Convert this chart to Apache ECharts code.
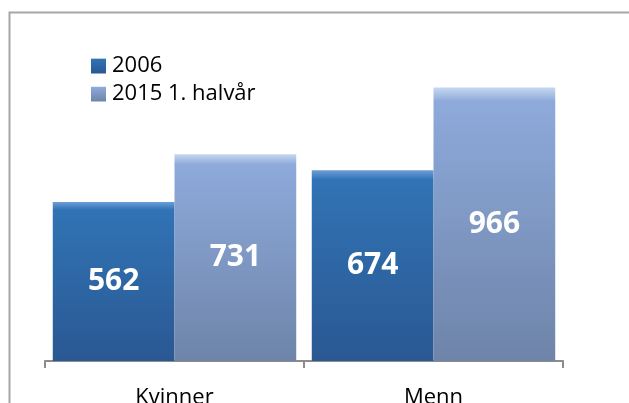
<html>
  <head>
    <script src="https://cdn.jsdelivr.net/npm/echarts@6.0.0/dist/echarts.min.js"></script>
    <title>Kvinner og menn</title>
  </head>
  <body style="margin:0; background-color:#ffffff;">
    <div id="chart" style="width:629px; height:403px;"></div>
    <script>
      const categories = ['Kvinner', 'Menn'];
      const seriesNames = ['2006', '2015 1. halvår'];
      const values2006 = [562, 674];
      const values2015 = [731, 966];

      const font = '"Open Sans", sans-serif';

      // bevelled look: light strip on top, then darker toward the bottom
      const darkFill = new echarts.graphic.LinearGradient(0, 0, 0, 1, [
        { offset: 0, color: '#6b9fd6' },
        { offset: 0.05, color: '#3173b5' },
        { offset: 1, color: '#2a5893' }
      ]);
      const lightFill = new echarts.graphic.LinearGradient(0, 0, 0, 1, [
        { offset: 0, color: '#c6d8f0' },
        { offset: 0.05, color: '#8eaadb' },
        { offset: 1, color: '#6e84a9' }
      ]);

      const chart = echarts.init(document.getElementById('chart'));

      const barLabel = {
        show: true,
        position: 'inside',
        color: '#ffffff',
        fontFamily: font,
        fontWeight: 'bold',
        fontSize: 30
      };

      const option = {
        backgroundColor: '#ffffff',
        animation: false,
        graphic: [
          {
            type: 'rect',
            left: 7,
            top: 10,
            shape: { width: 700, height: 500 },
            style: { fill: 'none', stroke: '#a6a6a6', lineWidth: 2 }
          }
        ],
        legend: {
          orient: 'vertical',
          left: 86,
          top: 50,
          icon: 'rect',
          itemWidth: 15,
          itemHeight: 15,
          itemGap: 6,
          textStyle: { fontFamily: font, fontSize: 22, color: '#000000', padding: [0, 0, 0, 1] },
          data: seriesNames
        },
        grid: { left: 45, right: 66, top: 78, bottom: 42, outerBoundsMode: 'none' },
        xAxis: {
          type: 'category',
          data: categories,
          axisLine: { lineStyle: { color: '#8c8c8c', width: 2 } },
          axisTick: { show: true, length: 7, lineStyle: { color: '#8c8c8c', width: 2 } },
          axisLabel: { margin: 26, fontFamily: font, fontSize: 22, color: '#000000' }
        },
        yAxis: {
          type: 'value',
          min: 0,
          max: 1000,
          show: false
        },
        series: [
          {
            name: seriesNames[0],
            type: 'bar',
            data: values2006,
            barGap: '0%',
            barCategoryGap: '6%',
            itemStyle: { color: darkFill },
            label: barLabel
          },
          {
            name: seriesNames[1],
            type: 'bar',
            data: values2015,
            barGap: '0%',
            barCategoryGap: '6%',
            itemStyle: { color: lightFill },
            label: barLabel
          }
        ]
      };

      chart.setOption(option);
    </script>
  </body>
</html>
